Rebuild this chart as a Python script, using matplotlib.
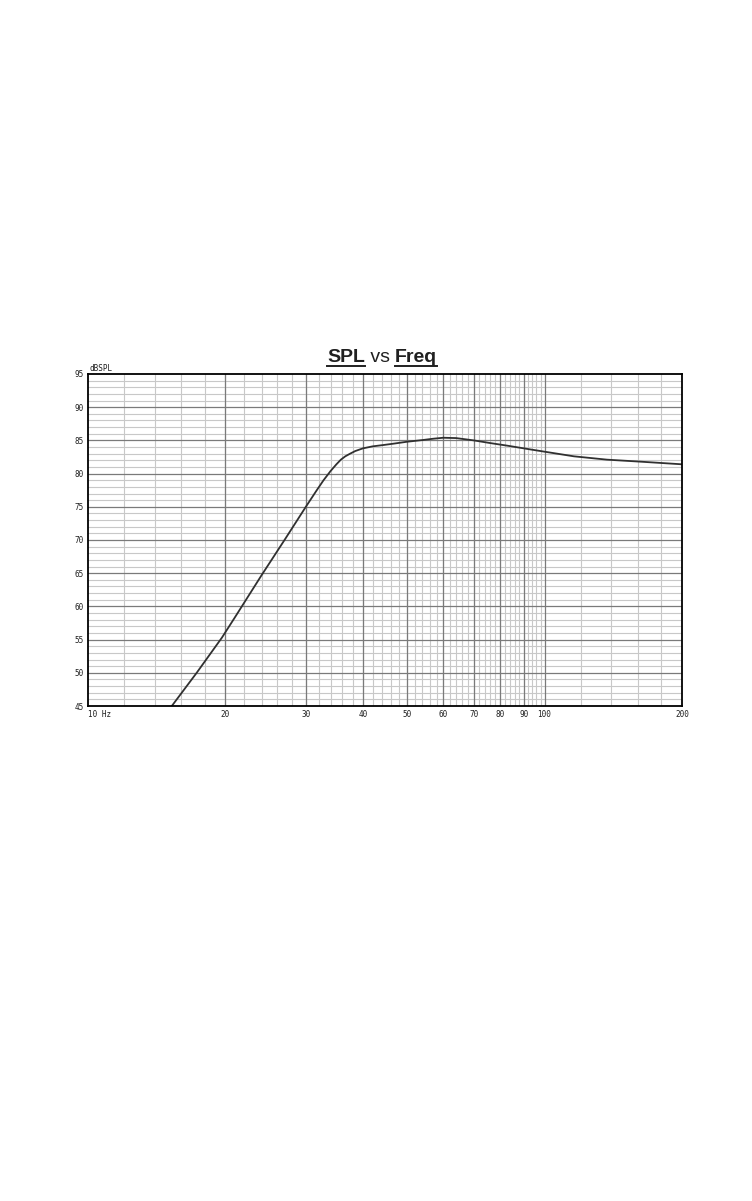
"""SPL vs Freq response plot (log frequency axis, 10-200 Hz)."""

import matplotlib

matplotlib.use("Agg")
import matplotlib.pyplot as plt
from matplotlib.lines import Line2D

# curve
freq_hz = [15.26, 17.3, 19.65, 21.0, 24.0, 27.0, 30.0, 31.7, 32.8, 34.0,
           35.0, 35.8, 36.6, 37.5, 38.5, 40.0, 42.0, 44.3, 46.6, 50.0,
           54.0, 57.0, 60.0, 64.0, 70.0, 76.0, 83.0, 91.0, 100.0, 116.0,
           137.0, 162.0, 200.0]
spl_db = [45.0, 50.0, 55.3, 58.4, 64.7, 70.1, 75.0, 77.5, 79.0, 80.4,
          81.4, 82.1, 82.6, 83.0, 83.4, 83.8, 84.1, 84.3, 84.5, 84.8,
          85.05, 85.25, 85.4, 85.35, 85.0, 84.6, 84.2, 83.75, 83.3, 82.6,
          82.1, 81.8, 81.4]

x_major = [10, 20, 30, 40, 50, 60, 70, 80, 90, 100, 200]
x_labels = ["10 Hz", "20", "30", "40", "50", "60", "70", "80", "90", "100", "200"]
x_minor = list(range(12, 100, 2)) + list(range(120, 200, 20))
y_major = list(range(45, 96, 5))
y_minor = list(range(46, 95))

W, H = 752, 1201
fig = plt.figure(figsize=(W / 100, H / 100), dpi=100)
ax = fig.add_axes([88 / W, 1 - 706 / H, (682 - 88) / W, (706 - 374) / H])

ax.set_xscale("log")
ax.set_xlim(10, 200)
ax.set_ylim(45, 95)

# grid: light minor lines, darker major ones
for f in x_minor:
    ax.axvline(f, color="#c8c8c8", lw=0.8, zorder=1)
for f in x_major[1:-1]:
    ax.axvline(f, color="#7a7a7a", lw=0.9, zorder=2)
for v in y_minor:
    if v % 5:
        ax.axhline(v, color="#c8c8c8", lw=0.8, zorder=1)
for v in y_major[1:-1]:
    ax.axhline(v, color="#7a7a7a", lw=0.9, zorder=2)

ax.plot(freq_hz, spl_db, color="#303030", lw=1.3, zorder=5, clip_on=True)

tick_font = dict(family="DejaVu Sans Mono", fontsize=5.5, color="#202020")
ax.set_xticks(x_major)
ax.set_xticklabels(x_labels, **tick_font)
ax.xaxis.set_minor_locator(matplotlib.ticker.NullLocator())
ax.xaxis.set_minor_formatter(matplotlib.ticker.NullFormatter())
ax.set_yticks(y_major)
ax.set_yticklabels([str(v) for v in y_major], **tick_font)
ax.tick_params(length=0, pad=3)
ax.get_xticklabels()[0].set_horizontalalignment("left")

for s in ax.spines.values():
    s.set_linewidth(1.3)
    s.set_color("black")
    s.set_zorder(10)

ax.text(0.003, 1.004, "dBSPL", transform=ax.transAxes, ha="left", va="bottom",
        **tick_font)

# title: "SPL" and "Freq" bold + underlined, "vs" regular
title_font = dict(family="Liberation Sans", fontsize=14, color="#202020")
t1 = fig.text(327 / W, 1 - 362 / H, "SPL", ha="left", va="baseline",
              fontweight="bold", **title_font)
t2 = fig.text(0, 0, " vs ", fontweight="normal", **title_font)
t3 = fig.text(0, 0, "Freq", fontweight="bold", **title_font)

fig.canvas.draw()
r = fig.canvas.get_renderer()
bb1 = t1.get_window_extent(r)
t2.set_position((bb1.x1 / W, 1 - 362 / H))
fig.canvas.draw()
bb2 = t2.get_window_extent(r)
t3.set_position((bb2.x1 / W, 1 - 362 / H))
fig.canvas.draw()
bb3 = t3.get_window_extent(r)

uy = (H - 365.5) / H
for bb in (bb1, bb3):
    fig.add_artist(Line2D([bb.x0 / W, bb.x1 / W], [uy, uy], color="#202020",
                          lw=1.4, transform=fig.transFigure))

fig.savefig("out.png", dpi=100, facecolor="white")
